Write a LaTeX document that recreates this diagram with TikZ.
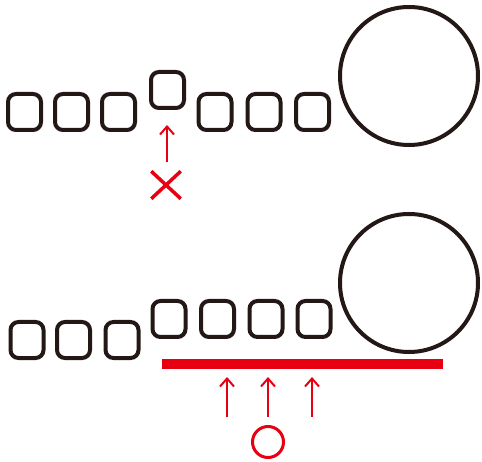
\documentclass[tikz,border=0pt]{standalone}
\usetikzlibrary{arrows.meta,shapes.misc}
\definecolor{ink}{HTML}{231815}
\definecolor{redmk}{HTML}{E60012}
\begin{document}
\begin{tikzpicture}[x=1pt,y=-1pt,
  cell/.style={draw=ink,line width=4pt,rounded corners=8pt,minimum width=33pt,minimum height=36pt,inner sep=0pt},
  ball/.style={draw=ink,line width=4pt,circle,minimum size=138pt,inner sep=0pt},
  arr/.style={draw=redmk,line width=2pt,-{Straight Barb[length=8pt,width=14pt,line width=2pt]}},
  okmark/.style={draw=redmk,line width=3pt,circle,minimum size=31pt,inner sep=0pt},
  ngmark/.style={draw=redmk,line width=3.5pt,cross out,minimum width=26pt,minimum height=24pt,inner sep=0pt}]
\useasboundingbox (0,0) rectangle (482,462);
% top row
\node[cell] (t1) at (24.5,112) {};
\node[cell] (t2) at (71.5,112) {};
\node[cell] (t3) at (118.5,112) {};
\node[cell] (t4) at (167.5,90) {};
\node[cell] (t5) at (215,112) {};
\node[cell] (t6) at (264,112) {};
\node[cell] (t7) at (312.5,112) {};
\node[ball] (tb) at (409,76) {};
\coordinate (ta0) at (167,162);
\coordinate (ta1) at (167,125);
\draw[arr] (ta0) -- (ta1);
\node[ngmark] (ng) at (166,185) {};
% bottom row
\node[cell] (b1) at (27,340) {};
\node[cell] (b2) at (73.5,340) {};
\node[cell] (b3) at (122,340) {};
\node[cell] (b4) at (169,319) {};
\node[cell] (b5) at (217.5,319) {};
\node[cell] (b6) at (266,319) {};
\node[cell] (b7) at (314,319) {};
\node[ball] (bb) at (409,283) {};
\fill[redmk] (162,359) rectangle (443,369);
\coordinate (a1s) at (227,417); \coordinate (a1e) at (227,377);
\coordinate (a2s) at (268,417); \coordinate (a2e) at (268,377);
\coordinate (a3s) at (312,417); \coordinate (a3e) at (312,377);
\draw[arr] (a1s) -- (a1e);
\draw[arr] (a2s) -- (a2e);
\draw[arr] (a3s) -- (a3e);
\node[okmark] (ok) at (268,442) {};
\end{tikzpicture}
\end{document}
